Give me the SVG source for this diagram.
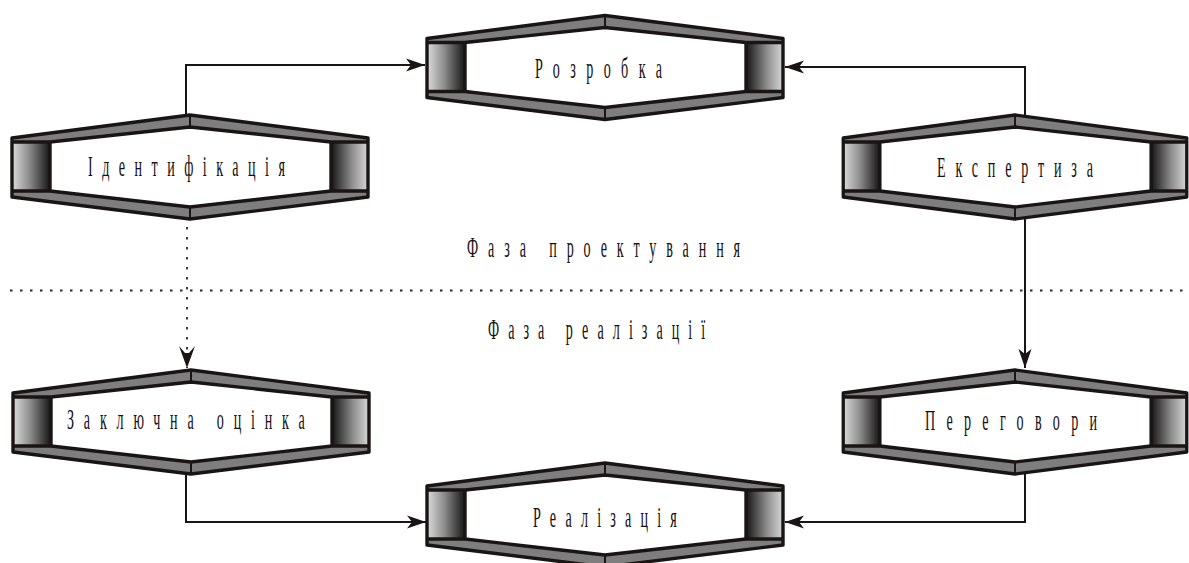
<svg xmlns="http://www.w3.org/2000/svg" xmlns:xlink="http://www.w3.org/1999/xlink" width="1189" height="563" viewBox="0 0 1189 563">
  <style>
    .band { fill: #7e7e7e; }
    .edge { fill: none; stroke: #1a1414; stroke-width: 3.4; stroke-linejoin: round; }
    .seam { stroke: #1a1414; stroke-width: 2; }
    .face { fill: #ffffff; }
    .lbl { font-family: "Liberation Serif", "DejaVu Serif", serif; font-size: 30px; fill: #141010; }
    .link { fill: none; stroke: #1a1414; stroke-width: 2; }
    .dots { fill: none; stroke: #2a2a2a; stroke-width: 1.8; stroke-dasharray: 2.5 7.5; }
  </style>
  <defs>
    <linearGradient id="shadeL" x1="0" y1="0" x2="1" y2="0">
      <stop offset="0" stop-color="#d8d8d8"/>
      <stop offset="0.45" stop-color="#8a8a8a"/>
      <stop offset="1" stop-color="#141414"/>
    </linearGradient>
    <linearGradient id="shadeR" x1="0" y1="0" x2="1" y2="0">
      <stop offset="0" stop-color="#141414"/>
      <stop offset="0.55" stop-color="#8a8a8a"/>
      <stop offset="1" stop-color="#d8d8d8"/>
    </linearGradient>
    <marker id="head" viewBox="-20 -8 22 16" refX="0" refY="0" markerWidth="22" markerHeight="16" markerUnits="userSpaceOnUse" orient="auto">
      <path d="M0,0 L-19,-6.5 L-14,0 L-19,6.5 Z" fill="#1a1414"/>
    </marker>
    <marker id="headWide" viewBox="-24 -10 26 20" refX="0" refY="0" markerWidth="26" markerHeight="20" markerUnits="userSpaceOnUse" orient="auto">
      <path d="M0,0 L-22,-8 L-15,-2 L-15,2 L-22,8 Z" fill="#1a1414"/>
    </marker>
    <!-- bevelled hexagon block, centred on the origin -->
    <g id="hexBlock">
      <polygon class="band" points="-178,-29 0,-52 178,-29 178,30 0,52 -178,30"/>
      <rect x="-177" y="-25" width="37" height="49" fill="url(#shadeL)"/>
      <rect x="141" y="-25" width="37" height="49" fill="url(#shadeR)"/>
      <polygon class="face" points="-140,-25 0,-40 141,-25 141,24 0,40 -140,24"/>
      <polygon class="edge" points="-178,-29 0,-52 178,-29 178,30 0,52 -178,30"/>
      <polyline class="edge" points="-178,-25 -140,-25 0,-40 141,-25 178,-25"/>
      <polyline class="edge" points="-178,24 -140,24 0,40 141,24 178,24"/>
      <line class="edge" x1="-140" y1="-25" x2="-140" y2="24"/>
      <line class="edge" x1="141" y1="-25" x2="141" y2="24"/>
      <line class="seam" x1="0" y1="-52" x2="0" y2="-40"/>
      <line class="seam" x1="0" y1="40" x2="0" y2="52"/>
    </g>
  </defs>

  <!-- phase divider -->
  <g id="phases">
    <line class="dots" x1="10" y1="290.5" x2="1189" y2="290.5"/>
    <text class="lbl" transform="translate(467,257) scale(0.47,1)" textLength="581" lengthAdjust="spacing">Фаза проектування</text>
    <text class="lbl" transform="translate(488,339) scale(0.47,1)" textLength="462" lengthAdjust="spacing">Фаза реалізації</text>
  </g>

  <!-- connectors -->
  <g id="connectors">
    <polyline class="link" points="186,117 186,65 425,65" marker-end="url(#head)"/>
    <polyline class="link" points="1025,117 1025,67 785,67" marker-end="url(#head)"/>
    <line class="dots" x1="187" y1="217" x2="187" y2="368" marker-end="url(#headWide)"/>
    <line class="link" x1="1025" y1="219" x2="1025" y2="368" marker-end="url(#head)"/>
    <polyline class="link" points="186,472 186,522 426,522" marker-end="url(#head)"/>
    <polyline class="link" points="1025,472 1025,522 785,522" marker-end="url(#head)"/>
  </g>

  <g id="rozrobka">
    <use xlink:href="#hexBlock" transform="translate(605,67.5)"/>
    <text class="lbl" transform="translate(535,78) scale(0.47,1)" textLength="270" lengthAdjust="spacing">Розробка</text>
  </g>

  <g id="identyfikatsiia">
    <use xlink:href="#hexBlock" transform="translate(190,167)"/>
    <text class="lbl" transform="translate(88,176) scale(0.47,1)" textLength="419" lengthAdjust="spacing">Ідентифікація</text>
  </g>

  <g id="ekspertyza">
    <use xlink:href="#hexBlock" transform="translate(1015,167) scale(0.965,1)"/>
    <text class="lbl" transform="translate(937,177) scale(0.47,1)" textLength="332" lengthAdjust="spacing">Експертиза</text>
  </g>

  <g id="zakliuchna">
    <use xlink:href="#hexBlock" transform="translate(191,422)"/>
    <text class="lbl" transform="translate(67,429) scale(0.47,1)" textLength="506" lengthAdjust="spacing">Заключна оцінка</text>
  </g>

  <g id="perehovory">
    <use xlink:href="#hexBlock" transform="translate(1015,422) scale(0.965,1)"/>
    <text class="lbl" transform="translate(925,430) scale(0.47,1)" textLength="366" lengthAdjust="spacing">Переговори</text>
  </g>

  <g id="realizatsiia">
    <use xlink:href="#hexBlock" transform="translate(605,515)"/>
    <text class="lbl" transform="translate(533,527) scale(0.47,1)" textLength="306" lengthAdjust="spacing">Реалізація</text>
  </g>
</svg>
